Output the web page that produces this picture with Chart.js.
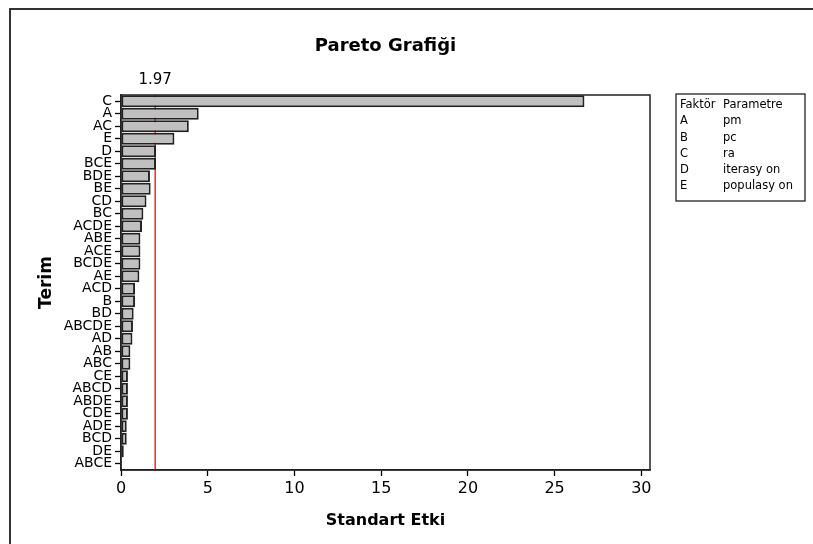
<!DOCTYPE html>
<html>
<head>
<meta charset="utf-8">
<script src="https://cdn.jsdelivr.net/npm/chart.js@4.4.0/dist/chart.umd.min.js"></script>
<style>
  body { margin: 0; background: #fff; }
  #wrap { width: 813px; height: 544px; }
</style>
</head>
<body>
<div id="wrap"><canvas id="pareto" width="813" height="544"></canvas></div>
<script>
// terms, top to bottom
var terms = ['C','A','AC','E','D','BCE','BDE','BE','CD','BC','ACDE','ABE','ACE','BCDE','AE',
  'ACD','B','BD','ABCDE','AD','AB','ABC','CE','ABCD','ABDE','CDE','ADE','BCD','DE','ABCE']
var effects = [26.72, 4.48, 3.91, 3.08, 2.02, 2.02, 1.67, 1.71, 1.47, 1.29, 1.21, 1.12, 1.12, 1.12, 1.06,
  0.81, 0.81, 0.73, 0.69, 0.66, 0.54, 0.54, 0.40, 0.40, 0.40, 0.40, 0.33, 0.33, 0.16, 0.04]
var xTicks = [0, 5, 10, 15, 20, 25, 30]
var refValue = 1.97
var refLabel = '1.97'
var legendFactors = ['A', 'B', 'C', 'D', 'E']
var legendParams = ['pm', 'pc', 'ra', 'iterasy on', 'populasy on']

var FONT = 'DejaVu Sans'

var paretoDecor = {
  id: 'paretoDecor',
  beforeDatasetsDraw: function (chart) {
    var ctx = chart.ctx
    var a = chart.chartArea
    var x = chart.scales.x.getPixelForValue(refValue)
    ctx.save()
    ctx.strokeStyle = '#ee1c1c'
    ctx.lineWidth = 1.4
    ctx.beginPath()
    ctx.moveTo(x, a.top)
    ctx.lineTo(x, a.bottom)
    ctx.stroke()
    ctx.restore()
  },
  afterDraw: function (chart) {
    var ctx = chart.ctx
    var a = chart.chartArea
    ctx.save()
    // outer frame
    ctx.strokeStyle = '#333'
    ctx.lineWidth = 2
    ctx.beginPath()
    ctx.moveTo(10, 544)
    ctx.lineTo(10, 9)
    ctx.lineTo(813, 9)
    ctx.stroke()
    // plot frame
    ctx.strokeStyle = '#222'
    ctx.lineWidth = 1.5
    ctx.strokeRect(a.left, a.top, a.right - a.left, a.bottom - a.top)
    // title
    ctx.fillStyle = '#000'
    ctx.textAlign = 'center'
    ctx.textBaseline = 'middle'
    ctx.font = 'bold 18px "' + FONT + '"'
    ctx.fillText('Pareto Grafiği', (a.left + a.right) / 2, 46)
    // reference label
    var x = chart.scales.x.getPixelForValue(refValue)
    ctx.font = '15px "' + FONT + '"'
    ctx.fillText(refLabel, x, 80)
    // factor table
    var bx = 676, by = 94, bw = 129, bh = 107
    ctx.strokeStyle = '#222'
    ctx.lineWidth = 1.3
    ctx.strokeRect(bx, by, bw, bh)
    ctx.textAlign = 'left'
    ctx.font = '11.5px "' + FONT + '"'
    ctx.fillText('Faktör', bx + 4, by + 11)
    ctx.fillText('Parametre', bx + 47, by + 11)
    for (var i = 0; i < legendFactors.length; i++) {
      var y = by + 11 + (i + 1) * 16.3
      ctx.fillText(legendFactors[i], bx + 4, y)
      ctx.fillText(legendParams[i], bx + 47, y)
    }
    ctx.restore()
  }
}

new Chart(document.getElementById('pareto').getContext('2d'), {
  type: 'bar',
  data: {
    labels: terms,
    datasets: [{
      data: effects,
      backgroundColor: '#c0c0c0',
      borderColor: '#222',
      borderWidth: 2,
      borderSkipped: false,
      categoryPercentage: 1,
      barPercentage: 0.95
    }]
  },
  options: {
    indexAxis: 'y',
    responsive: false,
    animation: false,
    events: [],
    layout: { padding: { top: 95, right: 163, left: 0, bottom: 0 } },
    plugins: { legend: { display: false }, tooltip: { enabled: false } },
    scales: {
      x: {
        min: 0,
        max: 30.5,
        afterFit: function (s) { s.height = 74 },
        afterBuildTicks: function (s) { s.ticks = xTicks.map(function (v) { return { value: v } }) },
        ticks: { color: '#000', padding: 3, font: { family: FONT, size: 16 }, maxRotation: 0 },
        grid: { drawOnChartArea: false, tickLength: 6, color: '#000', tickWidth: 1.3 },
        border: { color: '#222', width: 1.5 },
        title: { display: true, text: 'Standart Etki', color: '#000', padding: { top: 0, bottom: 14 },
          font: { family: FONT, size: 16, weight: 'bold' } }
      },
      y: {
        afterFit: function (s) { s.width = 121 },
        ticks: { color: '#000', padding: 3, autoSkip: false, font: { family: FONT, size: 14, lineHeight: 1 } },
        grid: { offset: false, drawOnChartArea: false, tickLength: 6, color: '#000', tickWidth: 1.3 },
        border: { color: '#222', width: 1.5 },
        title: { display: true, text: 'Terim', color: '#000', padding: { top: 36, bottom: 0 },
          font: { family: FONT, size: 17, weight: 'bold' } }
      }
    }
  },
  plugins: [paretoDecor]
})
</script>
</body>
</html>
